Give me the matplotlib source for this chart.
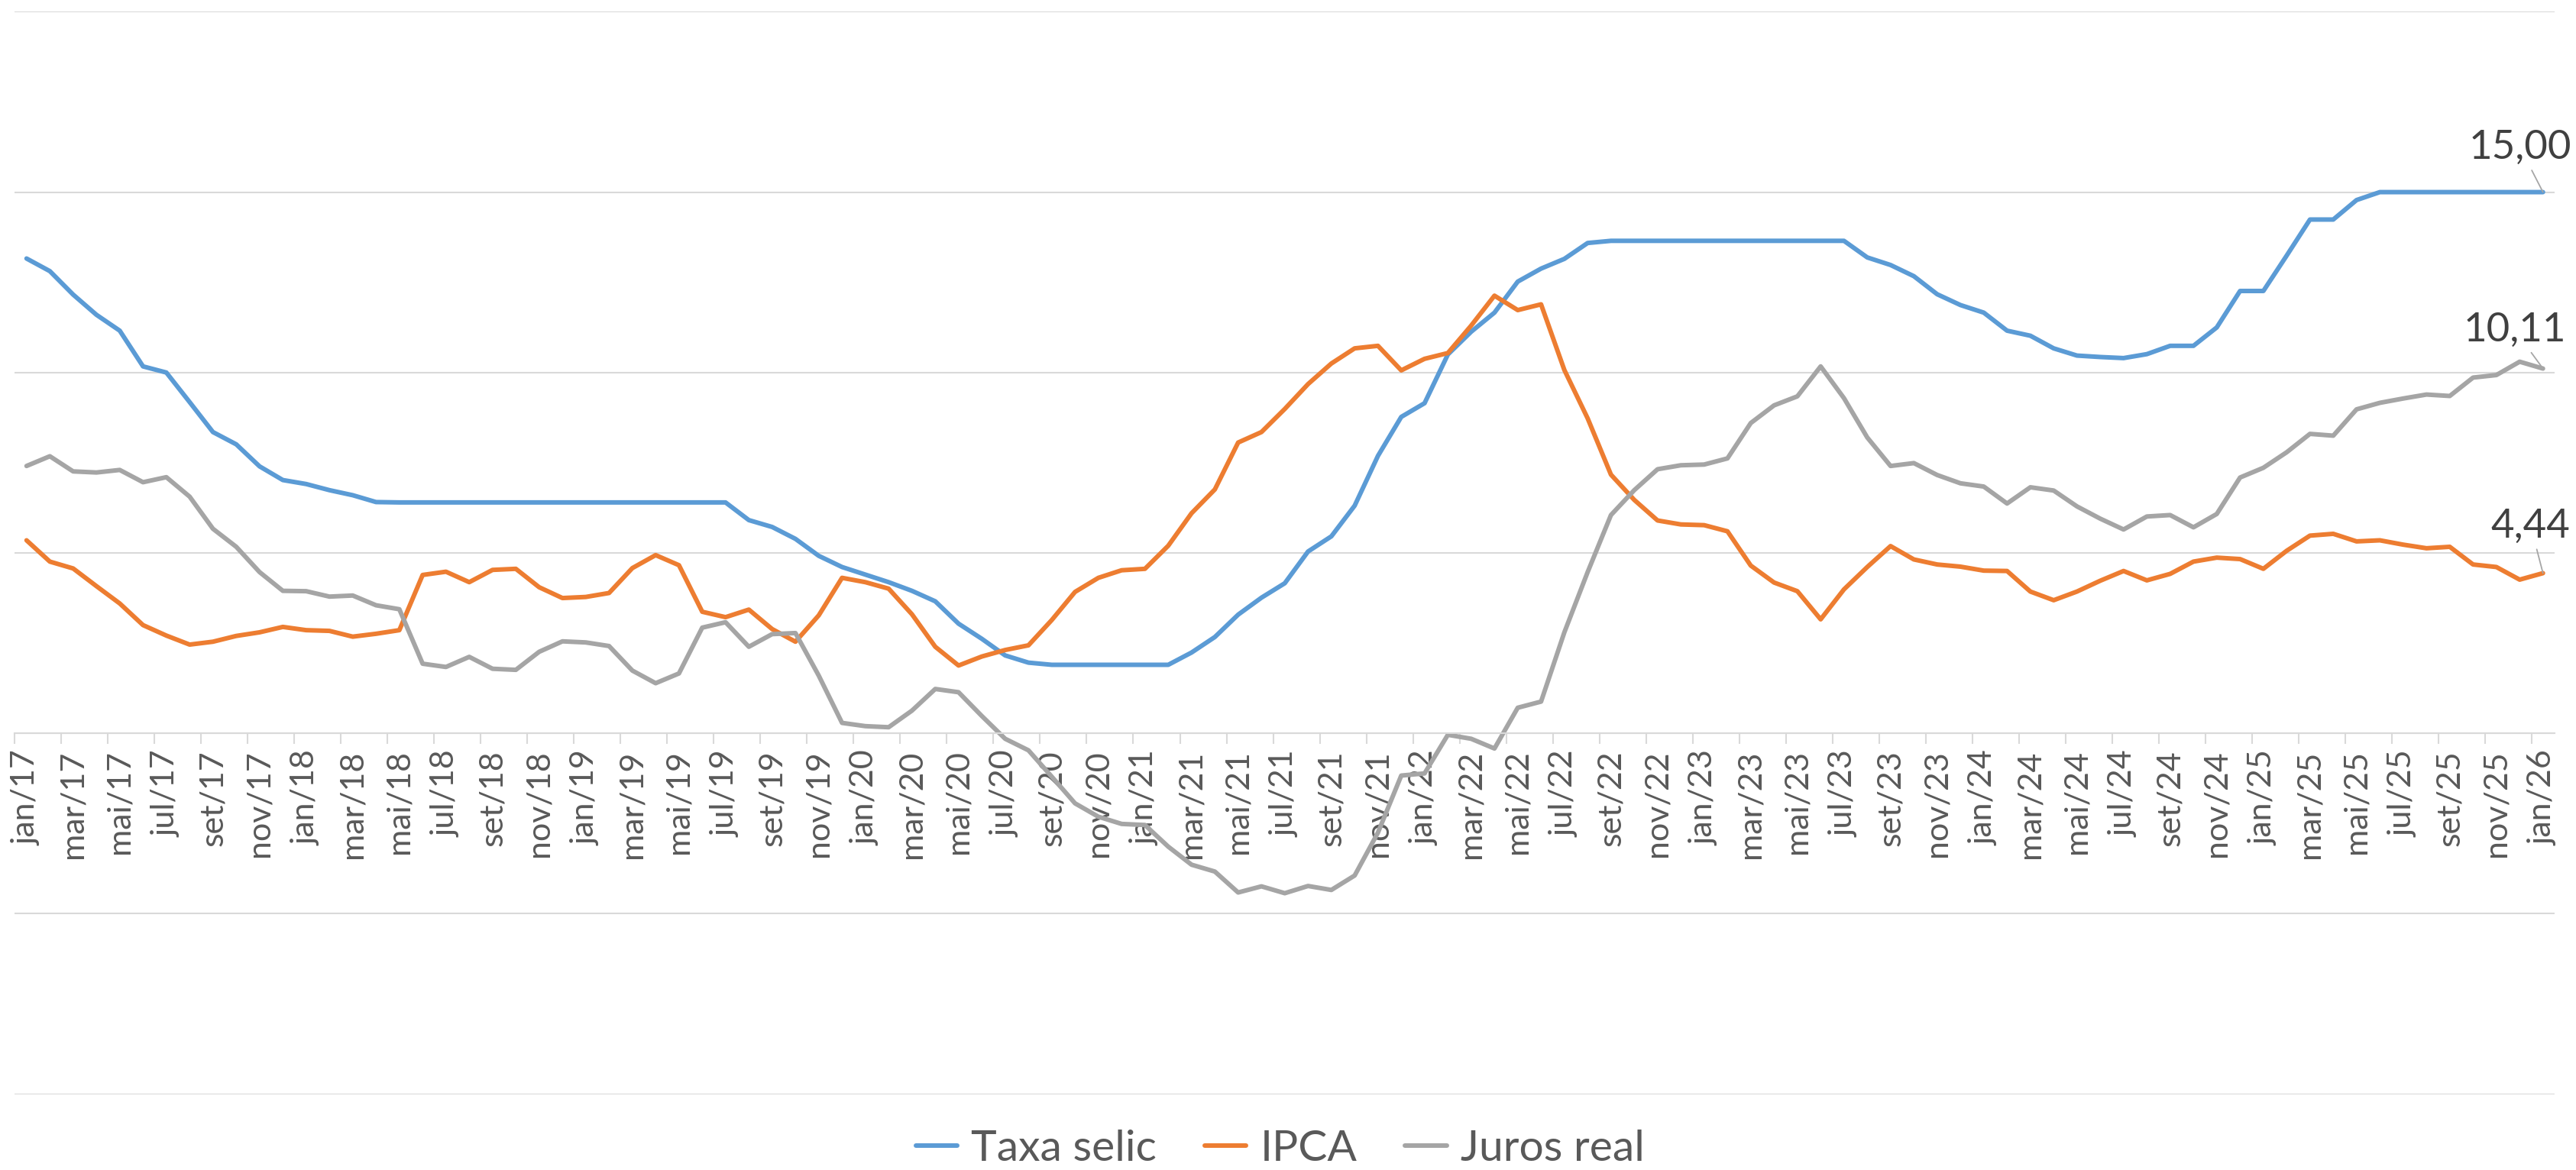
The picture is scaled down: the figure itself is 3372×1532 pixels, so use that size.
import matplotlib.pyplot as plt
import numpy as np

plt.rcParams['font.family'] = ['Lato', 'DejaVu Sans']

# categorias mensais jan/17 .. jan/26
meses = ['jan', 'fev', 'mar', 'abr', 'mai', 'jun', 'jul', 'ago', 'set', 'out', 'nov', 'dez']
categorias = [f"{m}/{a}" for a in range(17, 26) for m in meses] + ['jan/26']

selic = [
    13.16, 12.81, 12.16, 11.60, 11.16, 10.17, 10.00, 9.18, 8.35, 8.01, 7.40, 7.02,
    6.91, 6.74, 6.60, 6.41, 6.40, 6.40, 6.40, 6.40, 6.40, 6.40, 6.40, 6.40,
    6.40, 6.40, 6.40, 6.40, 6.40, 6.40, 6.40, 5.91, 5.72, 5.39, 4.92, 4.61,
    4.40, 4.19, 3.95, 3.66, 3.04, 2.62, 2.16, 1.96, 1.90, 1.90, 1.90, 1.90,
    1.90, 1.90, 2.24, 2.67, 3.29, 3.76, 4.16, 5.04, 5.46, 6.31, 7.69, 8.77,
    9.15, 10.50, 11.13, 11.66, 12.52, 12.88, 13.15, 13.59, 13.65, 13.65, 13.65, 13.65,
    13.65, 13.65, 13.65, 13.65, 13.65, 13.65, 13.65, 13.19, 12.98, 12.67, 12.17, 11.87,
    11.66, 11.16, 11.02, 10.67, 10.47, 10.43, 10.40, 10.51, 10.74, 10.74, 11.25, 12.26,
    12.26, 13.24, 14.24, 14.24, 14.78, 15.00, 15.00, 15.00, 15.00, 15.00, 15.00, 15.00,
    15.00,
]

ipca = [
    5.35, 4.76, 4.57, 4.08, 3.60, 3.00, 2.71, 2.46, 2.54, 2.70, 2.80, 2.95,
    2.86, 2.84, 2.68, 2.76, 2.86, 4.39, 4.48, 4.19, 4.53, 4.56, 4.05, 3.75,
    3.78, 3.89, 4.58, 4.94, 4.66, 3.37, 3.22, 3.43, 2.89, 2.54, 3.27, 4.31,
    4.19, 4.01, 3.30, 2.40, 1.88, 2.13, 2.31, 2.44, 3.14, 3.92, 4.31, 4.52,
    4.56, 5.20, 6.10, 6.76, 8.06, 8.35, 8.99, 9.68, 10.25, 10.67, 10.74, 10.06,
    10.38, 10.54, 11.30, 12.13, 11.73, 11.89, 10.07, 8.73, 7.17, 6.47, 5.90, 5.79,
    5.77, 5.60, 4.65, 4.18, 3.94, 3.16, 3.99, 4.61, 5.19, 4.82, 4.68, 4.62,
    4.51, 4.50, 3.93, 3.69, 3.93, 4.23, 4.50, 4.24, 4.42, 4.76, 4.87, 4.83,
    4.56, 5.06, 5.48, 5.53, 5.32, 5.35, 5.23, 5.13, 5.17, 4.68, 4.61, 4.26,
    4.44,
]

juros_real = [
    7.41, 7.68, 7.26, 7.23, 7.30, 6.96, 7.10, 6.56, 5.67, 5.17, 4.47, 3.95,
    3.94, 3.79, 3.82, 3.55, 3.44, 1.93, 1.84, 2.12, 1.79, 1.76, 2.26, 2.55,
    2.52, 2.42, 1.74, 1.39, 1.66, 2.93, 3.08, 2.40, 2.75, 2.78, 1.60, 0.29,
    0.20, 0.17, 0.63, 1.23, 1.14, 0.48, -0.15, -0.47, -1.20, -1.94, -2.31, -2.51,
    -2.54, -3.14, -3.64, -3.83, -4.41, -4.24, -4.43, -4.23, -4.34, -3.94, -2.75, -1.17,
    -1.11, -0.04, -0.15, -0.42, 0.71, 0.88, 2.80, 4.47, 6.05, 6.74, 7.32, 7.43,
    7.45, 7.62, 8.60, 9.09, 9.34, 10.17, 9.29, 8.20, 7.41, 7.49, 7.16, 6.93,
    6.84, 6.37, 6.82, 6.73, 6.29, 5.95, 5.65, 6.01, 6.05, 5.71, 6.08, 7.09,
    7.36, 7.79, 8.30, 8.25, 8.98, 9.16, 9.28, 9.39, 9.35, 9.86, 9.93, 10.30,
    10.11,
]

AZUL, LARANJA, CINZA = '#5B9BD5', '#ED7D31', '#A5A5A5'
GRADE = '#D9D9D9'
TEXTO = '#595959'

fig = plt.figure(figsize=(33.72, 15.32), dpi=100)
ax = fig.add_axes([0.00578, 0.0648, 0.98592, 0.9252])

x = np.arange(len(categorias))
lw = 4.3
ax.plot(x, selic, color=AZUL, lw=lw, label='Taxa selic', solid_capstyle='round', solid_joinstyle='round')
ax.plot(x, ipca, color=LARANJA, lw=lw, label='IPCA', solid_capstyle='round', solid_joinstyle='round')
ax.plot(x, juros_real, color=CINZA, lw=lw, label='Juros real', solid_capstyle='round', solid_joinstyle='round')

ax.set_xlim(-0.5, len(categorias) - 0.5)
ax.set_ylim(-10, 20)

# grade horizontal, sem rótulos no eixo y
ax.set_yticks(np.arange(-10, 21, 5))
ax.tick_params(axis='y', length=0, labelleft=False)
ax.grid(axis='y', color=GRADE, lw=1.5)

for s in ['top', 'right', 'left']:
    ax.spines[s].set_visible(False)
ax.spines['bottom'].set_position(('data', 0))
ax.spines['bottom'].set_color(GRADE)
ax.spines['bottom'].set_linewidth(1.5)

# marcas entre categorias, rótulos a cada 2 meses
ax.set_xticks(np.arange(-0.5, len(categorias) - 1, 2))
ax.set_xticklabels([])
ax.tick_params(axis='x', which='major', length=10, width=1.5, color=GRADE, direction='out')
ax.set_xticks(x[::2], minor=True)
ax.set_xticklabels(categorias[::2], minor=True, rotation=90, fontsize=31, color=TEXTO)
ax.tick_params(axis='x', which='minor', length=0, pad=16)

# rótulos dos últimos valores
rotulos = [(selic[-1], -30, 44), (juros_real[-1], -37, 36), (ipca[-1], -16, 47)]
for v, dx, dy in rotulos:
    ax.annotate(f"{v:.2f}".replace('.', ','), xy=(x[-1], v), xytext=(dx, dy),
                textcoords='offset pixels', ha='center', va='baseline',
                fontsize=38, color='#404040',
                arrowprops=dict(arrowstyle='-', color='#A6A6A6', lw=1.3, shrinkA=3, shrinkB=0))

leg = ax.legend(loc='center', bbox_to_anchor=(0.497, 0.018), bbox_transform=fig.transFigure,
                ncol=3, frameon=False, fontsize=41, handlelength=0.95, handletextpad=0.33,
                columnspacing=1.1, labelcolor=TEXTO)

fig.savefig('out.png', dpi=100)
